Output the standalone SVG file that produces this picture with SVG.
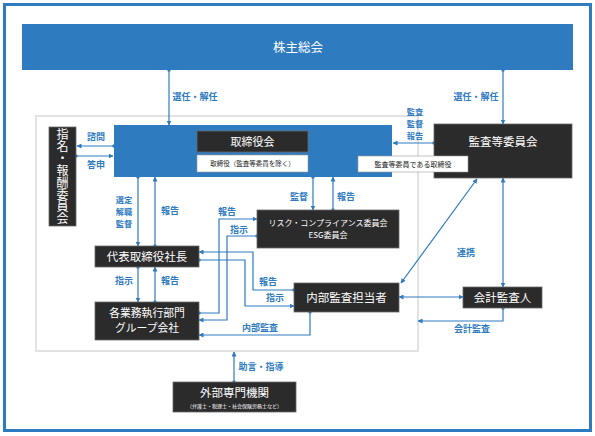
<svg xmlns="http://www.w3.org/2000/svg" width="595" height="436" viewBox="0 0 595 436">
<style>
  text { font-family: "Noto Sans CJK JP", "Noto Sans", sans-serif; }
  .blue { fill: #2e7bbf; }
  .dark { fill: #2b2b2b; stroke: #6a6a6a; stroke-width: 0.8; }
  .wbox { fill: #ffffff; stroke: #9a9a9a; stroke-width: 0.6; }
  .wt { fill: #ffffff; text-anchor: middle; }
  .bt { fill: #222222; text-anchor: middle; }
  .lbl { fill: #2e7bbf; font-size: 9px; text-anchor: middle; font-weight: bold; }
  .stk { font-size: 8.2px; }
  .ln { fill: none; stroke: #2e7bbf; stroke-width: 1.2; }
  .a { marker-end: url(#ah); marker-start: url(#dot); }
  .aa { marker-end: url(#ah); marker-start: url(#ahs); }
</style>
<defs>
  <marker id="ah" viewBox="0 0 10 10" refX="9" refY="5" markerWidth="5" markerHeight="5" markerUnits="userSpaceOnUse" orient="auto">
    <path d="M0,0 L10,5 L0,10 z" fill="#2e7bbf"/>
  </marker>
  <marker id="ahs" viewBox="0 0 10 10" refX="9" refY="5" markerWidth="5" markerHeight="5" markerUnits="userSpaceOnUse" orient="auto-start-reverse">
    <path d="M0,0 L10,5 L0,10 z" fill="#2e7bbf"/>
  </marker>
  <marker id="dot" viewBox="0 0 10 10" refX="5" refY="5" markerWidth="3.5" markerHeight="3.5" markerUnits="userSpaceOnUse" orient="auto">
    <circle cx="5" cy="5" r="5" fill="#2e7bbf"/>
  </marker>
</defs>
<rect x="0" y="0" width="595" height="436" fill="#ffffff"/>
<rect x="4.5" y="4.5" width="586" height="426" fill="none" stroke="#2e7bbf" stroke-width="3"/>
<rect x="36" y="116" width="382" height="235" fill="none" stroke="#e2e2e2" stroke-width="2"/>

<g id="connectors">
  <line class="ln a" x1="169" y1="70" x2="169" y2="125"/>
  <line class="ln a" x1="503" y1="70" x2="503" y2="124"/>
  <line class="ln a" x1="434" y1="143" x2="393" y2="143"/>
  <line class="ln a" x1="114" y1="146" x2="77" y2="146"/>
  <line class="ln a" x1="76" y1="156" x2="113" y2="156"/>
  <line class="ln a" x1="138" y1="177" x2="138" y2="246"/>
  <line class="ln a" x1="155" y1="246" x2="155" y2="177"/>
  <line class="ln a" x1="138" y1="267" x2="138" y2="302"/>
  <line class="ln a" x1="155" y1="302" x2="155" y2="267"/>
  <line class="ln a" x1="313" y1="177" x2="313" y2="210"/>
  <line class="ln a" x1="333" y1="210" x2="333" y2="177"/>
  <path class="ln a" d="M199,313 H219 V219 H257"/>
  <path class="ln a" d="M257,236 H227 V320 H199"/>
  <path class="ln a" d="M294,290 H253 V252 H199"/>
  <path class="ln a" d="M199,260 H245 V306 H294"/>
  <path class="ln a" d="M310,312 V335 H199"/>
  <line class="ln aa" x1="399" y1="297" x2="463" y2="297"/>
  <line class="ln aa" x1="503" y1="178" x2="503" y2="287"/>
  <line class="ln aa" x1="477" y1="179" x2="401" y2="283"/>
  <path class="ln a" d="M503,308 V321 H418"/>
  <line class="ln a" x1="234" y1="382" x2="234" y2="352"/>

  <text class="lbl" x="195" y="100">選任・解任</text>
  <text class="lbl" x="476" y="100">選任・解任</text>
  <text class="lbl stk" x="415" y="115">監査</text>
  <text class="lbl stk" x="415" y="127">監督</text>
  <text class="lbl stk" x="415" y="139">報告</text>
  <text class="lbl" x="96" y="140">諮問</text>
  <text class="lbl" x="96" y="168">答申</text>
  <text class="lbl stk" x="124" y="202.5">選定</text>
  <text class="lbl stk" x="124" y="214.5">解職</text>
  <text class="lbl stk" x="124" y="226.5">監督</text>
  <text class="lbl" x="170" y="214">報告</text>
  <text class="lbl" x="124" y="284">指示</text>
  <text class="lbl" x="170" y="284">報告</text>
  <text class="lbl" x="299" y="200">監督</text>
  <text class="lbl" x="346" y="200">報告</text>
  <text class="lbl" x="227" y="215">報告</text>
  <text class="lbl" x="239" y="233">指示</text>
  <text class="lbl" x="268" y="285">報告</text>
  <text class="lbl" x="275" y="301">指示</text>
  <text class="lbl" x="260" y="331">内部監査</text>
  <text class="lbl" x="466" y="256">連携</text>
  <text class="lbl" x="472" y="332">会計監査</text>
  <text class="lbl" x="261" y="370">助言・指導</text>
</g>

<g id="shareholders">
  <rect class="blue" x="22" y="24" width="551" height="46"/>
  <text class="wt" x="298" y="51.5" font-size="12.5">株主総会</text>
</g>

<g id="board">
  <rect class="blue" x="114" y="125" width="278" height="52"/>
  <rect class="dark" x="197" y="131" width="111" height="21"/>
  <text class="wt" x="252.5" y="146" font-size="11">取締役会</text>
  <rect class="wbox" x="197" y="155" width="111" height="17"/>
  <text class="bt" x="252.5" y="166" font-size="6.5">取締役（監査等委員を除く）</text>
</g>

<g id="audit-committee">
  <rect class="dark" x="434" y="124" width="138" height="54"/>
  <text class="wt" x="503" y="146" font-size="11.5">監査等委員会</text>
</g>

<g id="audit-director-label">
  <rect class="wbox" x="358" y="156" width="110" height="16"/>
  <text class="bt" x="413" y="166.5" font-size="7">監査等委員である取締役</text>
</g>

<g id="nomination">
  <rect class="dark" x="49" y="127" width="27" height="99"/>
  <text class="wt" x="62.5" y="176.5" font-size="12" writing-mode="vertical-rl" style="writing-mode: vertical-rl;">指名・報酬委員会</text>
</g>

<g id="risk">
  <rect class="dark" x="257" y="210" width="142" height="38"/>
  <text class="wt" x="328" y="226" font-size="8">リスク・コンプライアンス委員会</text>
  <text class="wt" x="328" y="238" font-size="8">ESG委員会</text>
</g>

<g id="president">
  <rect class="dark" x="95" y="246" width="104" height="21"/>
  <text class="wt" x="147" y="261" font-size="11.5">代表取締役社長</text>
</g>

<g id="divisions">
  <rect class="dark" x="95" y="302" width="104" height="38"/>
  <text class="wt" x="147" y="316.5" font-size="10.8">各業務執行部門</text>
  <text class="wt" x="147" y="332.3" font-size="10.8">グループ会社</text>
</g>

<g id="internal-audit">
  <rect class="dark" x="294" y="283" width="105" height="29"/>
  <text class="wt" x="346.5" y="302" font-size="11.5">内部監査担当者</text>
</g>

<g id="accounting-auditor">
  <rect class="dark" x="463" y="287" width="79" height="21"/>
  <text class="wt" x="502.5" y="302" font-size="11.5">会計監査人</text>
</g>

<g id="external">
  <rect class="dark" x="173" y="382" width="123" height="30"/>
  <text class="wt" x="234.5" y="397" font-size="11.5">外部専門機関</text>
  <text class="wt" x="234.5" y="407.5" font-size="5">（弁護士・税理士・社会保険労務士など）</text>
</g>
</svg>
